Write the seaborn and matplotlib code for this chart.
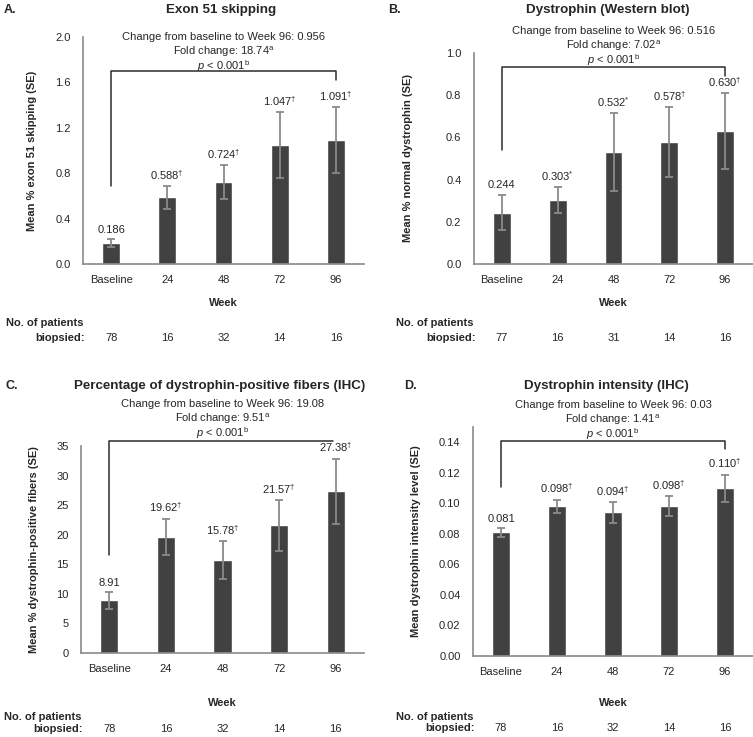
import numpy as np
import matplotlib.pyplot as plt
import seaborn as sns

# data
weeks = ["Baseline", "24", "48", "72", "96"]

exon_mean = [0.186, 0.588, 0.724, 1.047, 1.091]
exon_se = [0.035, 0.10, 0.15, 0.29, 0.29]
exon_sig = ["", "dag", "dag", "dag", "dag"]
exon_n = [78, 16, 32, 14, 16]

wb_mean = [0.244, 0.303, 0.532, 0.578, 0.630]
wb_se = [0.085, 0.062, 0.185, 0.167, 0.18]
wb_sig = ["", "star", "star", "dag", "dag"]
wb_n = [77, 16, 31, 14, 16]

fib_mean = [8.91, 19.62, 15.78, 21.57, 27.38]
fib_se = [1.4, 3.1, 3.2, 4.3, 5.5]
fib_sig = ["", "dag", "dag", "dag", "dag"]
fib_n = [78, 16, 32, 14, 16]

int_mean = [0.081, 0.098, 0.094, 0.098, 0.110]
int_se = [0.0028, 0.0045, 0.0068, 0.0065, 0.0088]
int_sig = ["", "dag", "dag", "dag", "dag"]
int_n = [78, 16, 32, 14, 16]

stats_a = ["0.956", "18.74"]
stats_b = ["0.516", "7.02"]
stats_c = ["19.08", "9.51"]
stats_d = ["0.03", "1.41"]

sns.set_style("white")
plt.rcParams["font.family"] = ["Liberation Sans", "DejaVu Sans"]
plt.rcParams["mathtext.fontset"] = "custom"
plt.rcParams["mathtext.rm"] = "Liberation Sans"
plt.rcParams["mathtext.it"] = "Liberation Sans:italic"
plt.rcParams["mathtext.bf"] = "Liberation Sans:bold"

W, H = 753, 737
fig = plt.figure(figsize=(W / 100, H / 100), dpi=100)

BAR = "#414141"
ERR = "#8a8a8a"
FS = 8


def px_axes(x0, y0, x1, y1):
    return fig.add_axes([x0 / W, 1 - y1 / H, (x1 - x0) / W, (y1 - y0) / H])


def sup(s):
    if s == "dag":
        return r"$^{\dagger}$"
    if s == "star":
        return r"$^{*}$"
    return ""


def panel(ax, mean, se, sig, n, fmt, ylim, yticks, tickfmt, ylabel, stats,
          bracket, txt_offs, offs, ylab_x):
    sns.barplot(x=weeks, y=mean, color=BAR, saturation=1, width=0.32,
                errorbar=None, ax=ax)
    ax.errorbar(np.arange(5), mean, yerr=se, fmt="none", ecolor=ERR,
                elinewidth=1.3, capsize=2.6, capthick=1.3)
    ax.set_xlim(-0.5, 4.5)
    ax.set_ylim(*ylim)
    ax.set_yticks(yticks)
    ax.set_yticklabels([tickfmt.format(t) for t in yticks], fontsize=FS)
    ax.set_xticks(range(5))
    ax.set_xticklabels(weeks, fontsize=FS)
    ax.tick_params(axis="x", length=0, pad=offs[0])
    ax.tick_params(axis="y", length=4, width=1, color=ERR, direction="out", pad=5)
    sns.despine(ax=ax)
    for sp in ["left", "bottom"]:
        ax.spines[sp].set_color(ERR)
        ax.spines[sp].set_linewidth(1.2)
    ax.set_xlabel("")
    ax.set_ylabel(ylabel, fontsize=FS, fontweight="bold")
    ax.yaxis.set_label_coords(ylab_x, 0.5)

    for i in range(5):
        ax.annotate(fmt.format(mean[i]) + sup(sig[i]), xy=(i, mean[i] + se[i]),
                    xytext=(0, 3), textcoords="offset points",
                    ha="center", va="bottom", fontsize=FS)

    # bracket baseline -> week 96
    lo, top, hi = bracket
    xs = [0, 0, 4, 4] if hi is not None else [0, 0, 3.95]
    ys = [lo, top, top, hi] if hi is not None else [lo, top, top]
    ax.plot(xs, ys, color="#2b2b2b", lw=1.1, clip_on=False)
    lines = ["Change from baseline to Week 96: " + stats[0],
             "Fold change: " + stats[1] + r"$^{\mathrm{a}}$",
             r"$p$ < 0.001$^{\mathrm{b}}$"]
    for line, dy in zip(lines, txt_offs):
        ax.annotate(line, xy=(2, top), xytext=(0, dy), textcoords="offset pixels",
                    ha="center", va="center_baseline", fontsize=FS,
                    annotation_clip=False)

    trans = ax.get_xaxis_transform()
    ax.annotate("Week", xy=(2, 0), xycoords=trans, xytext=(0, -offs[1]),
                textcoords="offset pixels", ha="center", va="center",
                fontsize=FS, fontweight="bold")
    ax.annotate("No. of patients", xy=(0, 0), xycoords="axes fraction",
                xytext=(0, -offs[2]), textcoords="offset pixels",
                ha="right", va="center", fontsize=FS, fontweight="bold")
    ax.annotate("biopsied:", xy=(0, 0), xycoords="axes fraction",
                xytext=(2, -offs[3]), textcoords="offset pixels",
                ha="right", va="center", fontsize=FS, fontweight="bold")
    for i in range(5):
        ax.annotate(str(n[i]), xy=(i, 0), xycoords=trans, xytext=(0, -offs[3]),
                    textcoords="offset pixels", ha="center", va="center",
                    fontsize=FS)


ax_a = px_axes(83, 37, 364, 264)
panel(ax_a, exon_mean, exon_se, exon_sig, exon_n, "{:.3f}", (0, 2.0),
      [0, 0.4, 0.8, 1.2, 1.6, 2.0], "{:.1f}", "Mean % exon 51 skipping (SE)",
      stats_a, (0.69, 1.70, 1.62), (35, 21, 7), (8, 39, 59, 74), -0.164)

ax_b = px_axes(474, 53, 753, 264)
panel(ax_b, wb_mean, wb_se, wb_sig, wb_n, "{:.3f}", (0, 1.0),
      [0, 0.2, 0.4, 0.6, 0.8, 1.0], "{:.1f}", "Mean % normal dystrophin (SE)",
      stats_b, (0.54, 0.935, 0.89), (37, 23, 9), (8, 39, 59, 74), -0.219)

ax_c = px_axes(81, 446, 364, 653)
panel(ax_c, fib_mean, fib_se, fib_sig, fib_n, "{:.2f}", (0, 35),
      [0, 5, 10, 15, 20, 25, 30, 35], "{:.0f}",
      "Mean % dystrophin-positive fibers (SE)",
      stats_c, (16.6, 35.8, None), (38, 24, 10), (8, 50, 64, 76), -0.148)

ax_d = px_axes(473, 427, 753, 656)
panel(ax_d, int_mean, int_se, int_sig, int_n, "{:.3f}", (0, 0.15),
      [0, 0.02, 0.04, 0.06, 0.08, 0.10, 0.12, 0.14], "{:.2f}",
      "Mean dystrophin intensity level (SE)",
      stats_d, (0.111, 0.141, 0.1355), (37, 23, 9), (8, 47, 61, 72), -0.186)

# panel letters and titles
for x, y, s in [(4, 10, "A."), (388, 10, "B."), (6, 386, "C."), (404, 386, "D.")]:
    fig.text(x / W, 1 - y / H, s, fontsize=9, fontweight="bold", va="center")
for x, y, s in [(221, 10, "Exon 51 skipping"), (608, 10, "Dystrophin (Western blot)"),
                (220, 386, "Percentage of dystrophin-positive fibers (IHC)"),
                (606, 386, "Dystrophin intensity (IHC)")]:
    fig.text(x / W, 1 - y / H, s, fontsize=9.6, fontweight="bold",
             ha="center", va="center")

fig.savefig("out.png", dpi=100)
